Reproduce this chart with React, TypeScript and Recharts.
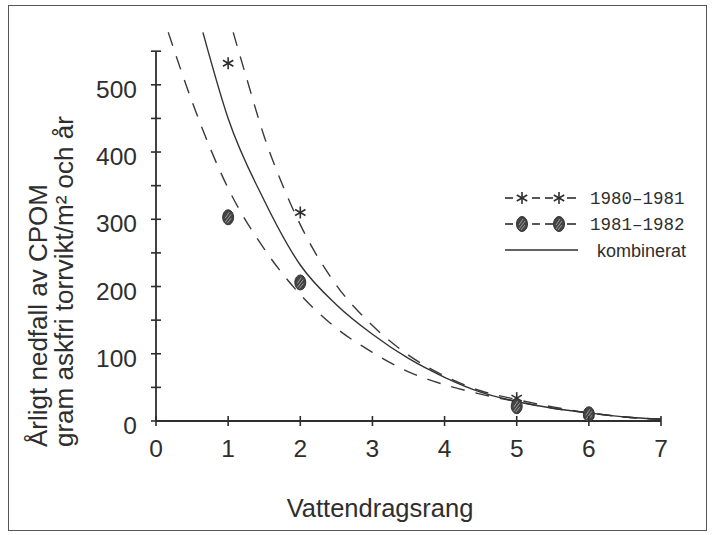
import React from 'react';
import {
  ComposedChart,
  Line,
  Scatter,
  XAxis,
  YAxis,
  ReferenceLine,
  Customized
} from 'recharts';

// Stream order on the x axis, litterfall (g AFDW / m² / year) on the y axis
const rankTicks = [0, 1, 2, 3, 4, 5, 6, 7];
const cpomTicks = [0, 50, 100, 150, 200, 250, 300, 350, 400, 450, 500, 550];

// Measured points
const rank8081 = [1, 2, 5, 6];
const cpom8081 = [532, 310, 34, 9];
const rank8182 = [1, 2, 5, 6];
const cpom8182 = [303, 206, 22, 10];

// Fitted curves
const upperRank = [1.07, 1.25, 1.5, 1.75, 2, 2.5, 3, 3.5, 4, 4.5, 5, 5.5, 6, 6.5, 7];
const upperCpom = [578, 512, 423, 352, 292, 202, 142, 98, 67, 45, 32, 21, 12, 6, 2.5];
const combRank = [0.65, 1, 1.5, 2, 2.5, 3, 3.5, 4, 4.5, 5, 5.5, 6, 6.5, 7];
const combCpom = [578, 450, 328, 232, 173, 129, 93, 65, 43, 29, 19, 12, 6, 2.5];
const lowerRank = [0.17, 0.5, 1, 1.5, 2, 2.5, 3, 3.5, 4, 4.5, 5, 5.5, 6, 6.5, 7];
const lowerCpom = [578, 475, 346, 256, 188, 138, 102, 73, 54, 40, 29, 19, 12, 6, 2.5];

const zip = (xs: number[], ys: number[]) => xs.map((x, i) => ({ x, y: ys[i] }));

const ink = '#2e2e2e';
const sans = '"Liberation Sans", Arial, Helvetica, sans-serif';
const mono = '"Liberation Mono", "Courier New", monospace';

const Asterisk = ({ cx, cy }: { cx: number; cy: number }) => (
  <g stroke={ink} strokeWidth={1.6}>
    <line x1={cx} y1={cy - 6} x2={cx} y2={cy + 6} />
    <line x1={cx - 5.2} y1={cy - 3} x2={cx + 5.2} y2={cy + 3} />
    <line x1={cx - 5.2} y1={cy + 3} x2={cx + 5.2} y2={cy - 3} />
  </g>
);

const Hatched = ({ cx, cy }: { cx: number; cy: number }) => (
  <g>
    <ellipse cx={cx} cy={cy} rx={5.5} ry={7.5} fill="#444" stroke="#333" strokeWidth={1} />
    <g stroke="#9a9a9a" strokeWidth={1}>
      <line x1={cx - 3} y1={cy + 1} x2={cx + 1} y2={cy - 5} />
      <line x1={cx - 3} y1={cy + 5} x2={cx + 3} y2={cy - 3} />
      <line x1={cx - 1} y1={cy + 6} x2={cx + 3} y2={cy + 1} />
    </g>
  </g>
);

const XTick = ({ x, y, payload }: any) => (
  <g>
    <line x1={x} x2={x} y1={y - 5} y2={y + 5} stroke={ink} strokeWidth={1.6} />
    <text x={x} y={y + 36} textAnchor="middle" fontFamily={sans} fontSize={24.5} fill={ink}>
      {payload.value}
    </text>
  </g>
);

const YTick = ({ x, y, payload }: any) => (
  <g>
    <line x1={x - 5} x2={x + 5} y1={y} y2={y} stroke={ink} strokeWidth={1.6} />
    {payload.value % 100 === 0 && payload.value <= 500 && (
      <text x={x - 19} y={y + 13} textAnchor="end" fontFamily={sans} fontSize={24.5} fill={ink}>
        {payload.value}
      </text>
    )}
  </g>
);

// Axis titles and the key
const Annotations = () => (
  <g fill={ink}>
    <text x={380} y={517} textAnchor="middle" fontFamily={sans} fontSize={25.5}>
      Vattendragsrang
    </text>
    <text transform="translate(47,447) rotate(-90)" fontFamily={sans} fontSize={26}>
      Årligt nedfall av CPOM
    </text>
    <text transform="translate(73,447) rotate(-90)" fontFamily={sans} fontSize={26}>
      gram askfri torrvikt/m² och år
    </text>

    <g transform="translate(500,180)">
      <g stroke={ink} strokeWidth={1.6}>
        <line x1={5} x2={13} y1={18} y2={18} />
        <line x1={32} x2={40} y1={18} y2={18} />
        <line x1={45} x2={53} y1={18} y2={18} />
        <line x1={67} x2={76} y1={18} y2={18} />
        <line x1={5} x2={13} y1={44} y2={44} />
        <line x1={32} x2={40} y1={44} y2={44} />
        <line x1={45} x2={53} y1={44} y2={44} />
        <line x1={67} x2={76} y1={44} y2={44} />
        <line x1={5} x2={78} y1={70} y2={70} strokeWidth={1.3} />
      </g>
      <Asterisk cx={22} cy={18} />
      <Asterisk cx={59} cy={18} />
      <Hatched cx={22} cy={44} />
      <Hatched cx={59} cy={44} />
      <text x={90} y={24} fontFamily={mono} fontSize={17.5}>1980–1981</text>
      <text x={90} y={50} fontFamily={mono} fontSize={17.5}>1981–1982</text>
      <text x={97} y={77} fontFamily={sans} fontSize={18}>kombinerat</text>
    </g>
  </g>
);

const App: React.FC = () => (
  <div style={{ position: 'absolute', left: 0, top: 0, width: 712, height: 535, background: '#fff' }}>
    <div
      style={{
        position: 'absolute',
        left: 8,
        top: 5,
        width: 699,
        height: 526,
        border: '1.5px solid #555',
        boxSizing: 'border-box'
      }}
    />
    <div style={{ position: 'absolute', left: 0, top: 0 }}>
      <ComposedChart width={712} height={535} margin={{ top: 31, right: 51, left: 96, bottom: 84 }}>
        <XAxis
          type="number"
          dataKey="x"
          domain={[0, 7]}
          ticks={rankTicks}
          interval={0}
          height={30}
          tickSize={0}
          tickMargin={0}
          tickLine={false}
          axisLine={{ stroke: ink, strokeWidth: 1.8 }}
          tick={<XTick />}
        />
        <YAxis
          type="number"
          dataKey="y"
          domain={[0, 580]}
          allowDataOverflow
          ticks={cpomTicks}
          interval={0}
          width={60}
          tickSize={0}
          tickMargin={0}
          tickLine={false}
          axisLine={false}
          tick={<YTick />}
        />
        <ReferenceLine
          segment={[{ x: 0, y: 0 }, { x: 0, y: 550 }]}
          stroke={ink}
          strokeWidth={1.8}
        />
        <Line
          data={zip(upperRank, upperCpom)}
          dataKey="y"
          type="monotone"
          stroke="#3a3a3a"
          strokeWidth={1.4}
          strokeDasharray="14 11"
          dot={false}
          isAnimationActive={false}
        />
        <Line
          data={zip(lowerRank, lowerCpom)}
          dataKey="y"
          type="monotone"
          stroke="#3a3a3a"
          strokeWidth={1.4}
          strokeDasharray="14 11"
          dot={false}
          isAnimationActive={false}
        />
        <Line
          data={zip(combRank, combCpom)}
          dataKey="y"
          type="monotone"
          stroke="#333"
          strokeWidth={1.4}
          dot={false}
          isAnimationActive={false}
        />
        <Scatter
          data={zip(rank8081, cpom8081)}
          shape={(p: any) => <Asterisk cx={p.cx} cy={p.cy} />}
          isAnimationActive={false}
        />
        <Scatter
          data={zip(rank8182, cpom8182)}
          shape={(p: any) => <Hatched cx={p.cx} cy={p.cy} />}
          isAnimationActive={false}
        />
        <Customized component={Annotations} />
      </ComposedChart>
    </div>
  </div>
);

export default App;
